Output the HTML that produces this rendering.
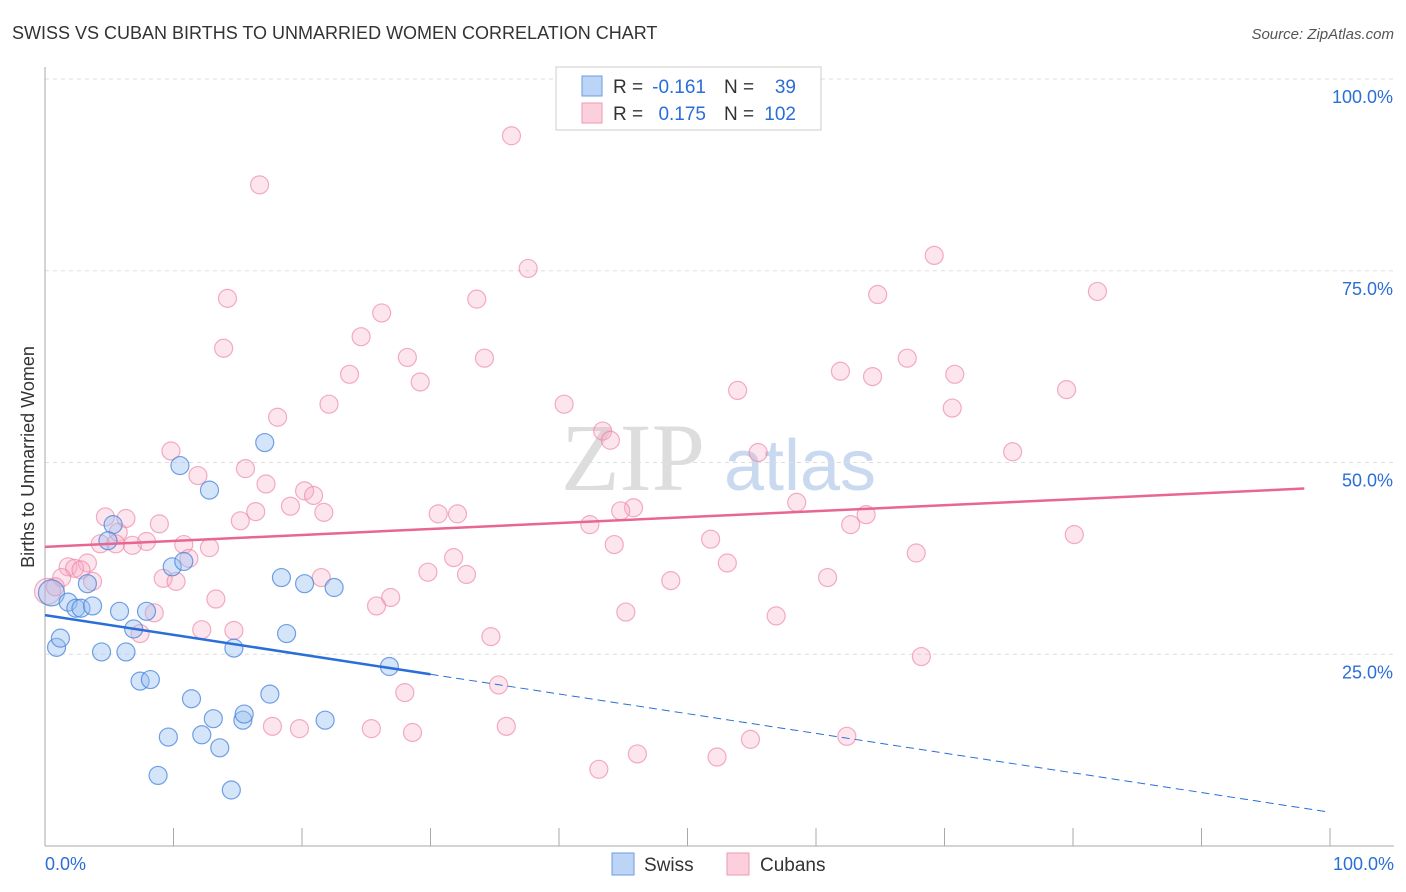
<!DOCTYPE html>
<html><head><meta charset="utf-8">
<style>
body{margin:0;background:#fff;font-family:"Liberation Sans",sans-serif;}
svg{display:block}
</style></head>
<body>
<svg id="chart" width="1406" height="892">
<text x="12" y="39" font-size="18" fill="#333">SWISS VS CUBAN BIRTHS TO UNMARRIED WOMEN CORRELATION CHART</text>
<text x="1394" y="39" font-size="15" fill="#555" font-style="italic" text-anchor="end">Source: ZipAtlas.com</text>
<text x="0" y="0" transform="translate(34,457) rotate(-90)" font-size="18" fill="#333" text-anchor="middle">Births to Unmarried Women</text>
<text x="633" y="490" font-size="96" fill="#ddd" font-family="Liberation Serif,serif" text-anchor="middle">ZIP</text>
<text x="800" y="490" font-size="72" fill="#c8d9f0" text-anchor="middle">atlas</text>
<g id="grid"></g><g id="axes"></g><g id="pts"></g><g id="lines"></g>
<g>
<rect x="556" y="67" width="265" height="63" fill="#fff" stroke="#ccc"/>
<rect x="582" y="76" width="20" height="20" fill="#bcd4f5" stroke="#6a9be0"/>
<rect x="582" y="103" width="20" height="20" fill="#fbd0dc" stroke="#ee9ab5"/>
<text x="613" y="93" font-size="19" fill="#333">R =</text>
<text x="706" y="93" font-size="19" fill="#2a6ed8" text-anchor="end">-0.161</text>
<text x="724" y="93" font-size="19" fill="#333">N =</text>
<text x="796" y="93" font-size="19" fill="#2a6ed8" text-anchor="end">39</text>
<text x="613" y="120" font-size="19" fill="#333">R =</text>
<text x="706" y="120" font-size="19" fill="#2a6ed8" text-anchor="end">0.175</text>
<text x="724" y="120" font-size="19" fill="#333">N =</text>
<text x="796" y="120" font-size="19" fill="#2a6ed8" text-anchor="end">102</text>
</g>
<g>
<rect x="612" y="853" width="22" height="22" fill="#bcd4f5" stroke="#6a9be0"/>
<text x="644" y="871" font-size="19" fill="#333">Swiss</text>
<rect x="727" y="853" width="22" height="22" fill="#fbd0dc" stroke="#ee9ab5"/>
<text x="760" y="871" font-size="19" fill="#333">Cubans</text>
</g>
</svg>
<script>
const swissX=[0.5,0.9,1.2,1.8,2.4,2.8,3.7,3.3,4.4,5.3,4.9,5.8,6.3,6.9,7.4,7.9,8.2,9.6,8.8,9.9,10.5,10.8,11.4,12.2,12.8,13.1,13.6,14.5,14.7,15.4,15.5,17.1,17.5,18.4,18.8,20.2,21.8,22.5,26.8];
const swissY=[33,25.9,27.1,31.8,31,31,31.3,34.2,25.3,41.9,39.8,30.6,25.3,28.3,21.5,30.6,21.7,14.2,9.2,36.4,49.6,37.1,19.2,14.5,46.4,16.6,12.8,7.3,25.8,16.4,17.2,52.6,19.8,35,27.7,34.2,16.4,33.7,23.4];
const cubanX=[36.3,16.7,37.6,69.2,14.2,33.6,64.8,81.9,26.2,24.6,13.9,28.2,34.2,67.1,23.7,29.2,61.9,64.4,70.8,53.9,79.5,22.1,18.1,40.4,70.6,43.4,44,55.5,9.8,75.3,15.6,11.9,17.2,20.2,20.9,19.1,45.8,58.5,16.4,15.2,21.7,30.6,32.1,44.8,4.7,6.3,8.9,63.9,62.7,42.4,5.7,80.1,51.8,44.3,7.9,4.3,5.5,6.8,10.8,12.8,67.8,3.3,1.8,2.3,2.8,1.3,11.2,31.8,53.1,9.2,10.2,3.7,21.5,29.8,32.8,48.7,60.9,26.9,13.3,25.8,45.2,8.5,56.9,7.4,12.2,14.7,34.7,68.2,28,35.3,17.7,19.8,25.4,28.6,35.9,54.9,62.4,46.1,52.3,43.1,0.2,0.8];
const cubanY=[92.6,86.2,75.3,77,71.4,71.3,71.9,72.3,69.5,66.4,64.9,63.7,63.6,63.6,61.5,60.5,61.9,61.2,61.5,59.4,59.5,57.6,55.9,57.6,57.1,54.1,52.9,51.3,51.5,51.4,49.2,48.3,47.2,46.3,45.7,44.3,44.1,44.8,43.6,42.4,43.5,43.3,43.3,43.7,42.9,42.7,42,43.2,41.9,41.9,40.9,40.6,40,39.3,39.7,39.4,39.4,39.2,39.3,38.9,38.2,36.9,36.4,36.2,36,35,37.5,37.6,36.9,34.9,34.5,34.5,35,35.7,35.4,34.6,35,32.4,32.2,31.3,30.5,30.4,30,27.7,28.2,28.1,27.3,24.7,20,21,15.6,15.3,15.3,14.8,15.6,13.9,14.3,12,11.6,10,33.2,33.8];
const xTicks=[0,10,20,30,40,50,60,70,80,90,100];
const yTicks=[25,50,75,100];
const yTickLabels=["25.0%","50.0%","75.0%","100.0%"];
const swissSlope=-0.257, swissB=30.1;
const cubanSlope=0.0776, cubanB=39.0;

const X0=45,X1=1330,Y0=846,Y1=79;
const sx=v=>X0+(X1-X0)*v/100, sy=v=>Y0-(Y0-Y1)*v/100;
const NS="http://www.w3.org/2000/svg";
function mk(tag,attrs,parent){const e=document.createElementNS(NS,tag);for(const k in attrs)e.setAttribute(k,attrs[k]);document.getElementById(parent).appendChild(e);return e;}

yTicks.forEach((t,i)=>{
 const l=mk('line',{x1:X0,x2:1394,y1:sy(t),y2:sy(t),stroke:'#ddd','stroke-dasharray':'4,4'},'grid');
 
 
 const tx=mk('text',{x:1393,y:sy(t)+24,'font-size':18,fill:'#2a6ed8','text-anchor':'end'},'grid');
 tx.textContent=yTickLabels[i];
 
 
});
const ax=mk('line',{x1:X0,x2:X0,y1:67,y2:Y0,stroke:'#aaa'},'axes');


const bx=mk('line',{x1:X0,x2:1394,y1:Y0,y2:Y0,stroke:'#aaa'},'axes');


xTicks.forEach(t=>{
 const l=mk('line',{x1:sx(t),x2:sx(t),y1:828,y2:Y0,stroke:'#aaa'},'axes');
 
 
});
[[0,'0.0%','start',45],[100,'100.0%','end',1394]].forEach(a=>{
 const tx=mk('text',{x:a[3],y:870,'font-size':18,fill:'#2a6ed8','text-anchor':a[2]},'axes');
 tx.textContent=a[1];
 
 
});
cubanX.forEach((x,i)=>{
 const big=i==cubanX.length-2;
 const c=mk('circle',{cx:sx(x),cy:sy(cubanY[i]),r:big?13:9,fill:'rgba(247,170,195,0.3)',stroke:'rgba(236,130,165,0.65)','stroke-width':1.2},'pts');
 
 
});
swissX.forEach((x,i)=>{
 const c=mk('circle',{cx:sx(x),cy:sy(swissY[i]),r:i==0?13:9,fill:'rgba(150,190,240,0.4)',stroke:'rgba(70,130,220,0.75)','stroke-width':1.2},'pts');
 
 
});
const pl=mk('line',{x1:sx(0),y1:sy(cubanB),x2:sx(98),y2:sy(cubanB+cubanSlope*98),stroke:'#e8668f','stroke-width':2.5},'lines');


const bl=mk('line',{x1:sx(0),y1:sy(swissB),x2:sx(30),y2:sy(swissB+swissSlope*30),stroke:'#2a6ed8','stroke-width':2.5},'lines');


const bd=mk('line',{x1:sx(30),y1:sy(swissB+swissSlope*30),x2:sx(100),y2:sy(swissB+swissSlope*100),stroke:'#2a6ed8','stroke-width':1,'stroke-dasharray':'8,5'},'lines');


</script>
</body></html>
